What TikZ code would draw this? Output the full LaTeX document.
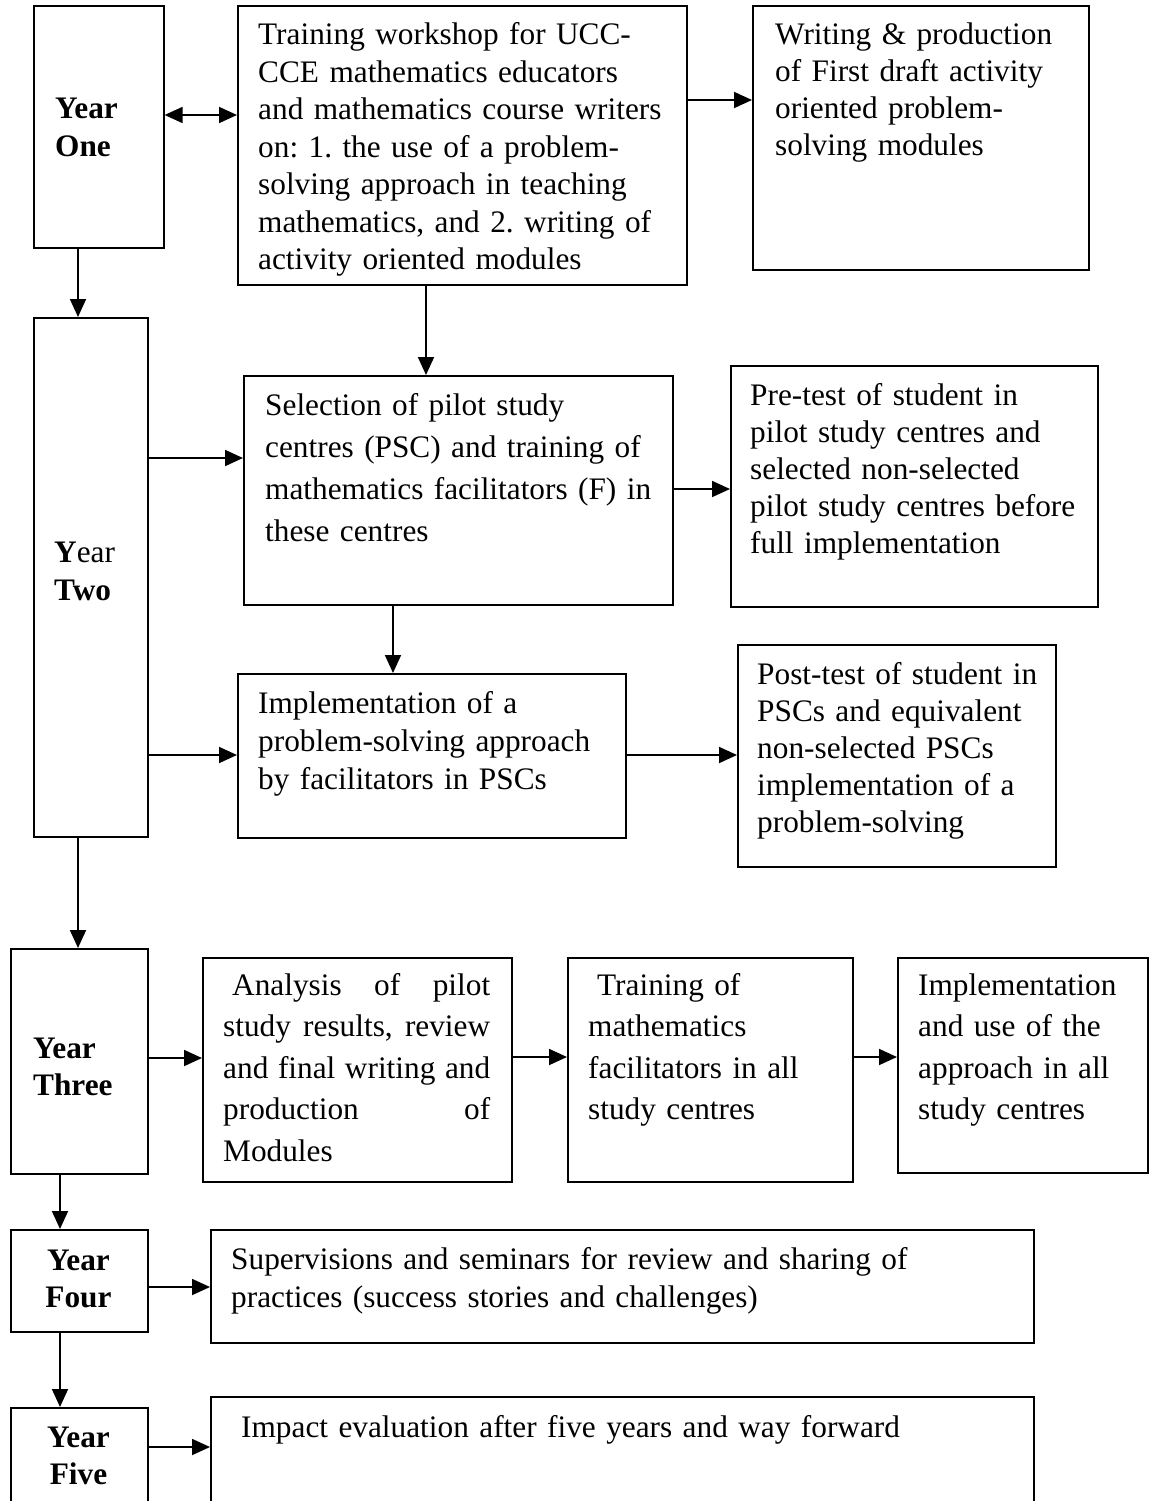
\documentclass[tikz,border=0pt]{standalone}
\usepackage{fontspec}
\setmainfont{Liberation Serif}
\usetikzlibrary{arrows.meta}
\frenchspacing
\begin{document}
\begin{tikzpicture}[x=1pt,y=-1pt,
  box/.style={draw=black, line width=1.6pt, inner sep=0pt, anchor=north west},
  txt/.style={inner sep=0pt, anchor=base west, text width=840pt, align=left,
    font=\fontsize{31.3}{37.5}\selectfont},
  txtb/.style={txt, font=\fontsize{31.3}{37.5}\selectfont\bfseries},
  yrc/.style={inner sep=0pt, anchor=base, text width=137pt, align=center,
    font=\fontsize{31.3}{37.5}\selectfont\bfseries},
  tip/.style={-{Triangle[length=18pt,width=16pt]}},
  arr/.style={line width=1.8pt, tip},
  darr/.style={line width=1.8pt, {Triangle[length=18pt,width=16pt]}-{Triangle[length=18pt,width=16pt]}}]
\useasboundingbox (0,0) rectangle (1150,1501);
\clip (0,0) rectangle (1150,1501);

% ---------- boxes ----------
\node[box, minimum width=130pt, minimum height=242pt] (y1) at (33,5) {};
\node[box, minimum width=449pt, minimum height=279pt] (tr) at (237,5) {};
\node[box, minimum width=336pt, minimum height=264pt] (wr) at (752,5) {};
\node[box, minimum width=114pt, minimum height=519pt] (y2) at (33,317) {};
\node[box, minimum width=429pt, minimum height=229pt] (sel) at (243,375) {};
\node[box, minimum width=367pt, minimum height=241pt] (pre) at (730,365) {};
\node[box, minimum width=388pt, minimum height=164pt] (imp) at (237,673) {};
\node[box, minimum width=318pt, minimum height=222pt] (post) at (737,644) {};
\node[box, minimum width=137pt, minimum height=225pt] (y3) at (10,948) {};
\node[box, minimum width=309pt, minimum height=224pt] (an) at (202,957) {};
\node[box, minimum width=285pt, minimum height=224pt] (tf) at (567,957) {};
\node[box, minimum width=250pt, minimum height=215pt] (iu) at (897,957) {};
\node[box, minimum width=137pt, minimum height=102pt] (y4) at (10,1229) {};
\node[box, minimum width=823pt, minimum height=113pt] (sup) at (210,1229) {};
\node[box, minimum width=137pt, minimum height=130pt] (y5) at (10,1407) {};
\node[box, minimum width=823pt, minimum height=140pt] (ie) at (210,1396) {};

% ---------- texts ----------
\node[txtb] (y1t) at (55,119) {Year\\One};
\node[txt] (trt) at (258,45) {Training workshop for UCC-\\CCE mathematics educators\\and mathematics course writers\\on: 1. the use of a problem-\\solving approach in teaching\\mathematics, and 2. writing of\\activity oriented modules};
\node[txt, font=\fontsize{31.3}{37}\selectfont] (wrt) at (775,45) {Writing \& production\\of First draft activity\\oriented problem-\\solving modules};
\node[txt, font=\fontsize{31.3}{38}\selectfont] (y2t) at (54,562) {\textbf{Y}ear\\\textbf{Two}};
\node[txt, font=\fontsize{31.3}{42}\selectfont] (selt) at (265,415) {Selection of pilot study\\centres (PSC) and training of\\mathematics facilitators (F) in\\these centres};
\node[txt, font=\fontsize{31.3}{37}\selectfont] (pret) at (750,405) {Pre-test of student in\\pilot study centres and\\selected non-selected\\pilot study centres before\\full implementation};
\node[txt, font=\fontsize{31.3}{38}\selectfont] (impt) at (258,713) {Implementation of a\\problem-solving approach\\by facilitators in PSCs};
\node[txt, font=\fontsize{31.3}{37}\selectfont] (postt) at (757,684) {Post-test of student in\\PSCs and equivalent\\non-selected PSCs\\implementation of a\\problem-solving};
\node[txtb, font=\fontsize{31.3}{37}\selectfont\bfseries] (y3t) at (33,1058) {Year\\Three};
\node[txt, font=\fontsize{31.3}{41.5}\selectfont] (ant) at (223,995) {\makebox[267pt][l]{\hspace{9pt}Analysis\hfill of\hfill pilot}\\\makebox[267pt][l]{study\hfill results,\hfill review}\\\makebox[267pt][l]{and\hfill final\hfill writing\hfill and}\\\makebox[267pt][l]{production\hfill of}\\Modules};
\node[txt, font=\fontsize{31.3}{41.5}\selectfont] (tft) at (588,995) {\hspace{9pt}Training of\\mathematics\\facilitators in all\\study centres};
\node[txt, font=\fontsize{31.3}{41.5}\selectfont] (iut) at (918,995) {Implementation\\and use of the\\approach in all\\study centres};
\node[yrc] (y4t) at (78.5,1270) {Year\\Four};
\node[txt, font=\fontsize{31.3}{38}\selectfont] (supt) at (231,1269) {Supervisions and seminars for review and sharing of\\practices (success stories and challenges)};
\node[yrc] (y5t) at (78.5,1447) {Year\\Five};
\node[txt] (iet) at (241,1437) {Impact evaluation after five years and way forward};

% ---------- connectors ----------
\draw[darr] (y1.east |- 0,115) -- (tr.west |- 0,115);
\draw[arr] (tr.east |- 0,100) -- (wr.west |- 0,100);
\draw[arr] (78,0 |- y1.south) -- (78,0 |- y2.north);
\draw[arr] (426,0 |- tr.south) -- (426,0 |- sel.north);
\draw[arr] (y2.east |- 0,458) -- (sel.west |- 0,458);
\draw[arr] (sel.east |- 0,489) -- (pre.west |- 0,489);
\draw[arr] (393,0 |- sel.south) -- (393,0 |- imp.north);
\draw[arr] (y2.east |- 0,755) -- (imp.west |- 0,755);
\draw[arr] (imp.east |- 0,755) -- (post.west |- 0,755);
\draw[arr] (78,0 |- y2.south) -- (78,0 |- y3.north);
\draw[arr] (y3.east |- 0,1058) -- (an.west |- 0,1058);
\draw[arr] (an.east |- 0,1057) -- (tf.west |- 0,1057);
\draw[arr] (tf.east |- 0,1057) -- (iu.west |- 0,1057);
\draw[arr] (60,0 |- y3.south) -- (60,0 |- y4.north);
\draw[arr] (y4.east |- 0,1287) -- (sup.west |- 0,1287);
\draw[arr] (60,0 |- y4.south) -- (60,0 |- y5.north);
\draw[arr] (y5.east |- 0,1447) -- (ie.west |- 0,1447);
\end{tikzpicture}
\end{document}
